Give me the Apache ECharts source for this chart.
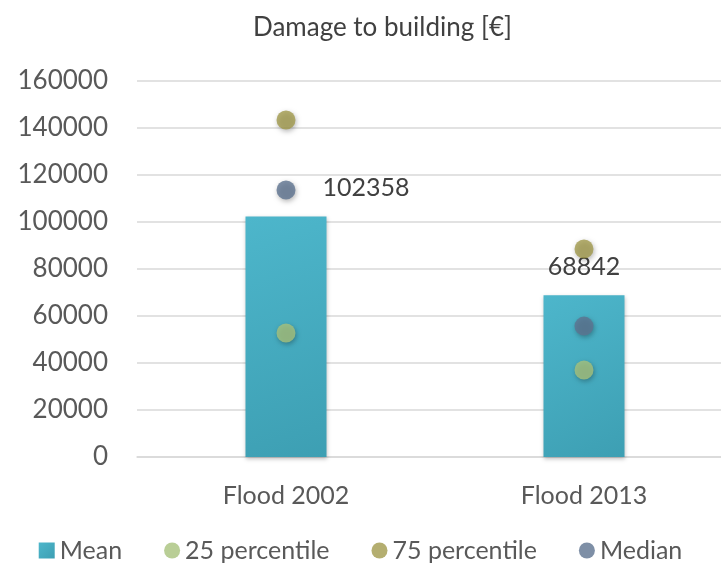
<!DOCTYPE html>
<html>
<head>
<meta charset="utf-8">
<script src="https://cdn.jsdelivr.net/npm/echarts@6/dist/echarts.min.js"></script>
<style>
html,body{margin:0;padding:0;background:#fff}
#main{width:721px;height:568px}
</style>
</head>
<body>
<div id="main"></div>
<script>
var categories = ['Flood 2002', 'Flood 2013'];
var meanValues = [102358, 68842];
var p25Values = [52800, 37000];
var p75Values = [143400, 88500];
var medianValues = [113600, 55700];

var font = 'Lato, "DejaVu Sans", sans-serif';
var myChart = echarts.init(document.getElementById('main'));

function dotSeries(name, values, color) {
    return {
        name: name,
        type: 'scatter',
        data: values,
        symbolSize: 19,
        itemStyle: {
            color: color,
            shadowColor: 'rgba(0,0,0,0.35)',
            shadowBlur: 5,
            shadowOffsetX: 1,
            shadowOffsetY: 2
        },
        z: 5
    };
}

myChart.setOption({
    animation: false,
    title: {
        text: 'Damage to building [€]',
        left: 248,
        top: 10,
        textStyle: {fontFamily: font, fontSize: 26, fontWeight: 'normal', color: '#404040'}
    },
    legend: {
        bottom: 0,
        left: 'center',
        itemGap: 42,
        itemWidth: 16,
        itemHeight: 16,
        textStyle: {fontFamily: font, fontSize: 25, color: '#595959'},
        data: [
            {name: 'Mean', icon: 'rect'},
            {name: '25 percentile', icon: 'circle'},
            {name: '75 percentile', icon: 'circle'},
            {name: 'Median', icon: 'circle'}
        ]
    },
    grid: {left: 137, width: 596, top: 81, height: 376, outerBoundsMode: 'none'},
    xAxis: {
        type: 'category',
        data: categories,
        axisTick: {show: false},
        axisLine: {lineStyle: {color: '#d9d9d9', width: 1.5}},
        axisLabel: {fontFamily: font, fontSize: 25, color: '#595959', margin: 26}
    },
    yAxis: {
        type: 'value',
        min: 0,
        max: 160000,
        interval: 20000,
        axisLine: {show: false},
        axisTick: {show: false},
        splitLine: {lineStyle: {color: '#d9d9d9', width: 1.5}},
        axisLabel: {
            fontFamily: font, fontSize: 26, color: '#595959', margin: 29,
            formatter: function (v) { return String(v); }
        }
    },
    series: [
        {
            name: 'Mean',
            type: 'bar',
            barWidth: 81,
            data: [
                {value: meanValues[0], label: {offset: [80, 0]}},
                {value: meanValues[1]}
            ],
            itemStyle: {
                color: new echarts.graphic.LinearGradient(0, 0, 1, 1, [
                    {offset: 0, color: '#4db6cb'},
                    {offset: 1, color: '#3d9fb3'}
                ]),
                shadowColor: 'rgba(0,0,0,0.25)',
                shadowBlur: 4,
                shadowOffsetY: 2
            },
            label: {
                show: true,
                position: 'top',
                distance: 16,
                fontFamily: font,
                fontSize: 25,
                color: '#404040'
            }
        },
        dotSeries('25 percentile', p25Values, '#a7c27c'),
        dotSeries('75 percentile', p75Values, '#a19a4c'),
        dotSeries('Median', medianValues, '#5e7390')
    ]
});
</script>
</body>
</html>
